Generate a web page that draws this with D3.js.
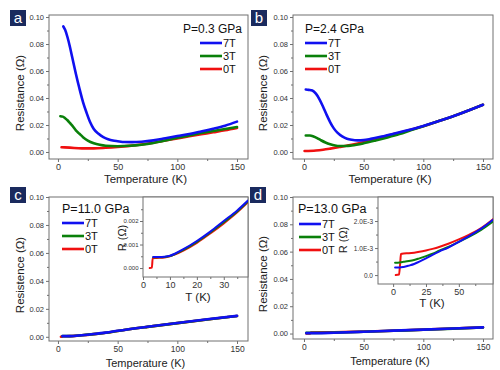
<!DOCTYPE html>
<html>
<head>
<meta charset="utf-8">
<script src="https://cdn.jsdelivr.net/npm/d3@7"></script>
<style>
  body { margin: 0; background: #fff; }
  svg { display: block; font-family: Arial, "Liberation Sans", sans-serif; }
</style>
</head>
<body>
<div id="chart"></div>
<script>
// ---- datos (T en K, R en ohm) ----
const fieldLabels = ['7T', '3T', '0T'];
const fieldColors = ['#1010f0', '#0a800a', '#f01010'];
const pressures = ['P=0.3 GPa', 'P=2.4 GPa', 'P=11.0 GPa', 'P=13.0 GPa'];
const panelLetters = ['a', 'b', 'c', 'd'];

const mainXTicks = [0, 50, 100, 150];
const mainXMinor = [25, 75, 125];
const mainYTicks = [0, 0.02, 0.04, 0.06, 0.08, 0.10];
const mainYMinor = [0.01, 0.03, 0.05, 0.07, 0.09];

// panel a
const a7T = [[4.5,0.093],[6,0.0905],[8,0.085],[10,0.078],[12,0.07],[15,0.058],[18,0.047],[21,0.037],[24,0.029],[27,0.022],[30,0.017],[34,0.0135],[38,0.011],[42,0.0095],[46,0.0085],[50,0.008],[56,0.0074],[62,0.0073],[70,0.0076],[80,0.0086],[90,0.0102],[100,0.0118],[110,0.0133],[120,0.0152],[130,0.0172],[140,0.0195],[150,0.0225]];
const a3T = [[2,0.0265],[4,0.0262],[6,0.025],[8,0.0235],[10,0.0215],[12,0.0195],[15,0.016],[18,0.0135],[21,0.011],[25,0.0085],[30,0.0065],[35,0.0053],[40,0.0046],[50,0.0043],[60,0.0046],[70,0.0054],[80,0.0067],[90,0.0085],[100,0.0105],[110,0.0122],[120,0.014],[130,0.0155],[140,0.017],[150,0.0185]];
const a0T = [[3,0.0035],[10,0.0032],[20,0.0027],[30,0.0027],[40,0.0031],[50,0.0037],[60,0.0045],[70,0.0056],[80,0.0069],[90,0.0085],[100,0.0101],[110,0.0116],[120,0.0131],[130,0.0146],[140,0.0161],[150,0.0178]];

// panel b
const b7T = [[1.5,0.0463],[4,0.046],[7,0.0455],[10,0.0432],[13,0.039],[16,0.0335],[19,0.0275],[22,0.022],[25,0.0175],[28,0.0143],[32,0.0115],[36,0.0098],[40,0.009],[45,0.0086],[50,0.0088],[56,0.0097],[65,0.0114],[75,0.0135],[85,0.0157],[100,0.0193],[115,0.0235],[125,0.0265],[140,0.0315],[150,0.035]];
const b3T = [[1.5,0.0122],[5,0.0122],[8,0.0115],[11,0.0103],[14,0.0088],[18,0.007],[22,0.0057],[26,0.0048],[30,0.0044],[35,0.0044],[40,0.0048],[50,0.0064],[60,0.0085],[70,0.0108],[80,0.0133],[90,0.0162],[100,0.019],[115,0.0235],[125,0.0265],[140,0.0315],[150,0.035]];
const b0T = [[0.5,0.0007],[10,0.0011],[16,0.0017],[22,0.0025],[30,0.0037],[40,0.0053],[48,0.0068],[58,0.009],[68,0.0115],[80,0.0143],[90,0.0166],[100,0.019],[115,0.0235],[125,0.0265],[140,0.0315],[150,0.035]];

// panel c
const c7T = [[3.8,0.00047],[10,0.0005],[20,0.00115],[30,0.002],[40,0.003],[50,0.0043],[75,0.0072],[100,0.0099],[125,0.0125],[150,0.015]];
const c3T = [[3.8,0.00046],[10,0.0005],[20,0.0011],[30,0.0019],[40,0.0029],[50,0.0042],[75,0.0071],[100,0.0098],[125,0.0124],[150,0.0149]];
const c0T = [[2.5,0],[3.3,0],[3.6,0.0004],[10,0.0005],[20,0.00108],[30,0.0019],[40,0.0029],[50,0.0042],[75,0.0071],[100,0.0098],[125,0.0124],[150,0.0149]];

// panel c inset
const ci7T = [[3.8,0.00047],[6,0.00047],[8,0.00048],[10,0.00052],[12,0.00062],[15,0.0008],[20,0.00115],[25,0.00155],[30,0.002],[35,0.00245],[39,0.00287]];
const ci3T = [[3.8,0.00046],[6,0.00046],[8,0.00047],[10,0.00051],[12,0.0006],[15,0.00077],[20,0.00111],[25,0.00151],[30,0.00195],[35,0.0024],[39,0.00283]];
const ci0T = [[2.5,0],[3.3,0.00002],[3.6,0.00042],[5,0.00043],[8,0.00045],[10,0.0005],[12,0.00058],[15,0.00074],[20,0.00107],[25,0.00147],[30,0.0019],[35,0.00237],[39,0.0028]];
const ciXTicks = [0, 10, 20, 30];
const ciXMinor = [5, 15, 25, 35];
const ciYTicks = [0, 0.001, 0.002];
const ciYMinor = [0.0005, 0.0015, 0.0025];

// panel d
const d7T = [[2,0.0003],[10,0.0003],[25,0.0006],[50,0.0013],[75,0.0021],[100,0.0029],[125,0.0037],[150,0.0045]];
const d3T = [[2,0.00045],[10,0.0005],[25,0.0007],[50,0.0013],[75,0.002],[100,0.0028],[125,0.0036],[150,0.0044]];
const d0T = [[2,0],[5,0],[6,0.00078],[25,0.00092],[50,0.00137],[75,0.0021],[100,0.0029],[125,0.0037],[150,0.0045]];

// panel d inset
const di7T = [[1.5,0.00028],[5,0.00028],[8,0.0003],[12,0.00035],[16,0.00041],[20,0.0005],[25,0.00062],[30,0.00075],[35,0.00087],[42,0.00102],[50,0.00123],[58,0.00145],[67,0.00172],[76,0.00205]];
const di3T = [[1.5,0.00046],[5,0.00047],[8,0.00049],[12,0.00052],[16,0.00056],[20,0.00062],[25,0.0007],[30,0.00079],[35,0.0009],[42,0.00104],[50,0.00123],[58,0.00142],[67,0.00167],[76,0.00198]];
const di0T = [[2,0],[4.5,0.00002],[5.3,0.0004],[6,0.00078],[8,0.0008],[12,0.00081],[16,0.00083],[20,0.00086],[25,0.00091],[30,0.00097],[35,0.00104],[42,0.00116],[50,0.00132],[58,0.0015],[67,0.00174],[76,0.00207]];
const diXTicks = [0, 25, 50];
const diXMinor = [12.5, 37.5, 62.5];
const diYTicks = [0, 0.001, 0.002];
const diYMinor = [0.0005, 0.0015, 0.0025];
const diYLabels = ['0.0', '1.0E-3', '2.0E-3'];

// ---- dibujo ----
const FONT_TICK = '#333';
const FRAME = '#707070';

let svg = d3.select('#chart').append('svg')
    .attr('width', 500)
    .attr('height', 370);

// ejes con marcas mayores y menores, fuera del marco
function drawAxes(g, x, y, o) {
    let [x0, x1] = x.range(), [y0, y1] = y.range();

    let gx = g.append('g').attr('transform', 'translate(0,' + y0 + ')');
    gx.call(d3.axisBottom(x).tickValues(o.xTicks).tickSize(3).tickSizeOuter(0).tickPadding(2).tickFormat(o.xFormat || d3.format('d')));
    gx.append('g').call(d3.axisBottom(x).tickValues(o.xMinor).tickSize(2).tickSizeOuter(0).tickFormat(''));

    let gy = g.append('g').attr('transform', 'translate(' + x0 + ',0)');
    gy.call(d3.axisLeft(y).tickValues(o.yTicks).tickSize(3).tickSizeOuter(0).tickPadding(o.yPad || 2).tickFormat(o.yFormat));
    gy.append('g').call(d3.axisLeft(y).tickValues(o.yMinor).tickSize(2).tickSizeOuter(0).tickFormat(''));

    g.selectAll('.domain').remove();
    g.selectAll('.tick line').attr('stroke', FRAME);
    gx.selectAll('text').attr('fill', FONT_TICK).style('font-size', o.xFont + 'px');
    gy.selectAll('text').attr('fill', FONT_TICK).style('font-size', o.yFont + 'px');

    g.append('rect')
        .attr('x', x0).attr('y', y1)
        .attr('width', x1 - x0).attr('height', y0 - y1)
        .attr('fill', 'none')
        .attr('stroke', FRAME)
        .attr('stroke-width', 1);
}

function drawCurves(g, x, y, series, width) {
    let line = d3.line()
        .x(d => x(d[0]))
        .y(d => y(d[1]))
        .curve(d3.curveMonotoneX);
    // 0T debajo, 7T encima
    [2, 1, 0].forEach(i => {
        g.append('path')
            .datum(series[i])
            .attr('d', line)
            .attr('fill', 'none')
            .attr('stroke', fieldColors[i])
            .attr('stroke-width', width)
            .attr('stroke-linejoin', 'round')
            .attr('stroke-linecap', 'round');
    });
}

let panels = [
    {series: [a7T, a3T, a0T], xr: [49, 248], yr: [159, 15], xd: [-7.5, 159.2], yd: [-0.0052, 0.1015],
     box: [10, 10], ylab: 'Resistance (Ω)', ylabX: 20, xlabY: 183, xlabF: 11.5, xFont: 9,
     leg: {px: 183, py: 33, lx: 200, ly: 43, fs: 12}},
    {series: [b7T, b3T, b0T], xr: [293, 493], yr: [159, 15], xd: [-9.2, 158.4], yd: [-0.0052, 0.1015],
     box: [251, 10], ylab: 'Resistence (Ω)', ylabX: 263, xlabY: 183, xlabF: 11.5, xFont: 9,
     leg: {px: 305, py: 33, lx: 305, ly: 43, fs: 12}},
    {series: [c7T, c3T, c0T], xr: [49, 248], yr: [341, 197], xd: [-7.5, 159.2], yd: [-0.003, 0.1],
     box: [10, 187], ylab: 'Resistence (Ω)', ylabX: 20, xlabY: 366.5, xlabF: 11, xFont: 8.5,
     leg: {px: 62, py: 213, lx: 62, ly: 223, fs: 12.5},
     inset: {series: [ci7T, ci3T, ci0T], xr: [143, 248], yr: [277, 197], xd: [0, 39], yd: [-0.00038, 0.00302],
             xTicks: ciXTicks, xMinor: ciXMinor, yTicks: ciYTicks, yMinor: ciYMinor, yFont: 6, yPad: 1.5,
             yFormat: d3.format('.3f'), rlabX: 122, rlabY: 238, tlabX: 198, tlabY: 301}},
    {series: [d7T, d3T, d0T], xr: [293, 493], yr: [339, 197], xd: [-9.2, 158.4], yd: [-0.004, 0.1],
     box: [250, 187], ylab: 'Resistance (Ω)', ylabX: 263, xlabY: 364.5, xlabF: 11, xFont: 8.5,
     leg: {px: 298, py: 213, lx: 299, ly: 224, fs: 12.5},
     inset: {series: [di7T, di3T, di0T], xr: [378, 493], yr: [284, 197], xd: [-11.5, 76], yd: [-0.00033, 0.00289],
             xTicks: diXTicks, xMinor: diXMinor, yTicks: diYTicks, yMinor: diYMinor, yFont: 6.5, yPad: 2,
             yFormat: (d, i) => diYLabels[i], rlabX: 343, rlabY: 240, tlabX: 432, tlabY: 307}}
];

panels.forEach(function(p, k) {
    let g = svg.append('g');
    let x = d3.scaleLinear().domain(p.xd).range(p.xr);
    let y = d3.scaleLinear().domain(p.yd).range(p.yr);

    drawAxes(g, x, y, {xTicks: mainXTicks, xMinor: mainXMinor, yTicks: mainYTicks, yMinor: mainYMinor,
        yFormat: d3.format('.2f'), xFont: p.xFont, yFont: 7.5});

    let clipId = 'clip' + k;
    g.append('clipPath').attr('id', clipId).append('rect')
        .attr('x', p.xr[0]).attr('y', p.yr[1])
        .attr('width', p.xr[1] - p.xr[0]).attr('height', p.yr[0] - p.yr[1]);
    drawCurves(g.append('g').attr('clip-path', 'url(#' + clipId + ')'), x, y, p.series, 2.6);

    // títulos de ejes
    g.append('text')
        .attr('x', (p.xr[0] + p.xr[1]) / 2 - 3)
        .attr('y', p.xlabY)
        .attr('text-anchor', 'middle')
        .style('font-size', p.xlabF + 'px')
        .attr('fill', '#222')
        .text('Temperature (K)');
    g.append('text')
        .attr('transform', 'translate(' + p.ylabX + ',' + ((p.yr[0] + p.yr[1]) / 2 + 6) + ') rotate(-90)')
        .attr('text-anchor', 'middle')
        .attr('dy', '0.35em')
        .style('font-size', '11.5px')
        .attr('fill', '#222')
        .text(p.ylab);

    // letra del panel
    g.append('rect')
        .attr('x', p.box[0]).attr('y', p.box[1])
        .attr('width', 16).attr('height', 16)
        .attr('fill', '#1a2a5e');
    g.append('text')
        .attr('x', p.box[0] + 8).attr('y', p.box[1] + 12.5)
        .attr('text-anchor', 'middle')
        .style('font-size', '15px')
        .attr('fill', '#fff')
        .text(panelLetters[k]);

    // leyenda
    g.append('text')
        .attr('x', p.leg.px).attr('y', p.leg.py)
        .style('font-size', p.leg.fs + 'px')
        .attr('fill', '#111')
        .text(pressures[k]);
    fieldLabels.forEach(function(lab, i) {
        let ly = p.leg.ly + i * 13;
        g.append('line')
            .attr('x1', p.leg.lx).attr('x2', p.leg.lx + 22)
            .attr('y1', ly).attr('y2', ly)
            .attr('stroke', fieldColors[i])
            .attr('stroke-width', 2.6);
        g.append('text')
            .attr('x', p.leg.lx + 23).attr('y', ly + 4)
            .style('font-size', '11px')
            .attr('fill', '#111')
            .text(lab);
    });

    // recuadro interior
    if (p.inset) {
        let s = p.inset;
        let gi = g.append('g');
        gi.append('rect')
            .attr('x', s.xr[0]).attr('y', s.yr[1])
            .attr('width', s.xr[1] - s.xr[0]).attr('height', s.yr[0] - s.yr[1])
            .attr('fill', '#fff');
        let xi = d3.scaleLinear().domain(s.xd).range(s.xr);
        let yi = d3.scaleLinear().domain(s.yd).range(s.yr);
        drawAxes(gi, xi, yi, {xTicks: s.xTicks, xMinor: s.xMinor, yTicks: s.yTicks, yMinor: s.yMinor,
            yFormat: s.yFormat, xFont: 9, yFont: s.yFont, yPad: s.yPad});
        let clipI = 'clipi' + k;
        gi.append('clipPath').attr('id', clipI).append('rect')
            .attr('x', s.xr[0]).attr('y', s.yr[1])
            .attr('width', s.xr[1] - s.xr[0]).attr('height', s.yr[0] - s.yr[1]);
        drawCurves(gi.append('g').attr('clip-path', 'url(#' + clipI + ')'), xi, yi, s.series, 2);

        gi.append('text')
            .attr('x', s.tlabX).attr('y', s.tlabY)
            .attr('text-anchor', 'middle')
            .style('font-size', '11.5px')
            .attr('fill', '#222')
            .text('T (K)');
        gi.append('text')
            .attr('transform', 'translate(' + s.rlabX + ',' + s.rlabY + ') rotate(-90)')
            .attr('text-anchor', 'middle')
            .attr('dy', '0.35em')
            .style('font-size', '11px')
            .attr('fill', '#222')
            .text('R (Ω)');
    }
});
</script>
</body>
</html>
